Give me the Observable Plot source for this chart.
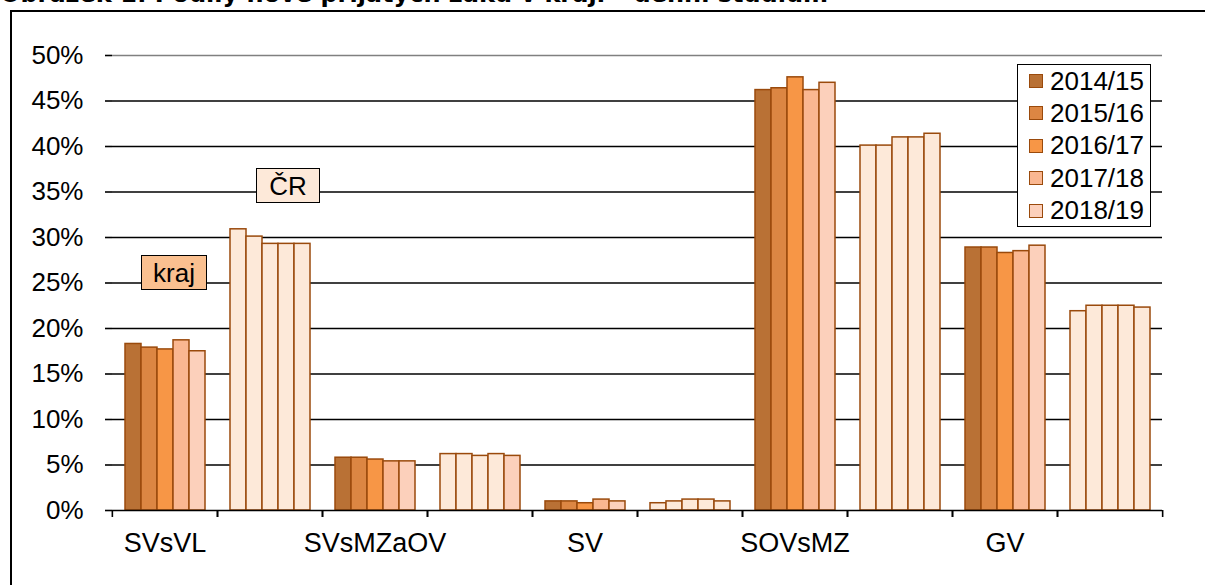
<!DOCTYPE html>
<html><head><meta charset="utf-8">
<script src="https://cdn.jsdelivr.net/npm/d3@7"></script>
<script src="https://cdn.jsdelivr.net/npm/@observablehq/plot@0.6"></script>
<style>
body{margin:0;background:#fff;font-family:"Liberation Sans",Arial,sans-serif;}
#wrap{position:relative;width:1205px;height:585px;overflow:hidden;background:#fff;}
#frame{position:absolute;left:10px;top:10px;width:1400px;height:800px;border:2px solid #000;box-sizing:border-box;}
#title{position:absolute;left:0px;top:-19px;font:bold 24px "DejaVu Sans",Verdana,sans-serif;white-space:nowrap;line-height:27px;}
#chart{position:absolute;left:0;top:0;}
.lab{position:absolute;border:1.5px solid #000;box-sizing:border-box;font-size:26px;display:flex;align-items:center;justify-content:center;line-height:1;}
#legend{position:absolute;left:1017px;top:64px;width:134px;height:163px;border:1.5px solid #000;box-sizing:border-box;background:#fff;}
.li{position:absolute;left:11px;height:30px;display:flex;align-items:center;font-size:26px;}
.sw{width:14px;height:14px;box-sizing:border-box;border:1.5px solid #9a4a0c;margin-right:7px;}
</style></head>
<body>
<div id="wrap">
  <div id="frame"></div>
  <div id="chart"></div>
  <div id="title">Obrázek 1: Podíly nově přijatých žáků v kraji – denní studium</div>
  <div class="lab" id="lkraj" style="left:141px;top:255px;width:66px;height:35px;background:#fac090;">kraj</div>
  <div class="lab" id="lcr" style="left:256px;top:168px;width:64px;height:35px;background:#fde9d9;">ČR</div>
  <div id="legend"></div>
</div>
<script>
const categories = ["SVsVL", "SVsMZaOV", "SV", "SOVsMZ", "GV"];
const groups = ["kraj", "ČR"];
const years = ["2014/15", "2015/16", "2016/17", "2017/18", "2018/19"];
const krajValues = [
  [18.3, 17.9, 17.7, 18.7, 17.5],
  [5.8, 5.8, 5.6, 5.4, 5.4],
  [1.0, 1.0, 0.8, 1.2, 1.0],
  [46.2, 46.4, 47.6, 46.2, 47.0],
  [28.9, 28.9, 28.3, 28.5, 29.1]
];
const crValues = [
  [30.9, 30.1, 29.3, 29.3, 29.3],
  [6.2, 6.2, 6.0, 6.2, 6.0],
  [0.8, 1.0, 1.2, 1.2, 1.0],
  [40.1, 40.1, 41.0, 41.0, 41.4],
  [21.9, 22.5, 22.5, 22.5, 22.3]
];
const yTicks = [0, 5, 10, 15, 20, 25, 30, 35, 40, 45, 50];

const yearColors = ["#b97135", "#dc8643", "#f79646", "#fab791", "#fcd0bb"];
const crColor = "#fde9d9";
const barStroke = "#9a4a0c";

const slots = [];
const rows = [];
categories.forEach((c, ci) => {
  groups.forEach(g => {
    const slot = c + "|" + g;
    slots.push(slot);
    const vals = g === "kraj" ? krajValues[ci] : crValues[ci];
    years.forEach((y, yi) => {
      let fill = g === "kraj" ? yearColors[yi] : crColor;
      if (g === "ČR" && c === "SVsMZaOV" && yi === 4) fill = yearColors[4];
      rows.push({slot, cat: c, group: g, year: y, value: vals[yi], fill});
    });
  });
});

const W = 1205, H = 585, mL = 110, mR = 42, mT = 55, mB = 75;
const facetW = (W - mL - mR) / slots.length;

const chart = Plot.plot({
  width: W, height: H,
  marginLeft: mL, marginRight: mR, marginTop: mT, marginBottom: mB,
  style: {fontFamily: "'Liberation Sans', Arial, sans-serif", fontSize: "26px", color: "#000", background: "transparent"},
  fx: {domain: slots, padding: 0, axis: null, label: null},
  x: {domain: years, paddingInner: 0, paddingOuter: 0.68, axis: null},
  y: {domain: [0, 50], axis: null, label: null},
  color: {type: "identity"},
  marks: [
    Plot.ruleY(yTicks.slice(1, -1), {stroke: "#000", strokeWidth: 1.6}),
    Plot.ruleY([50], {stroke: "#808080", strokeWidth: 1.6}),
    Plot.barY(rows, {fx: "slot", x: "year", y: "value", fill: "fill", stroke: barStroke, strokeWidth: 1.5}),
    Plot.ruleY([0], {stroke: "#000", strokeWidth: 1.6}),
    Plot.axisY({ticks: yTicks, tickFormat: d => d + "%", tickSize: 7, tickPadding: 22, fontSize: 26, label: null, line: true, stroke: "#000", strokeWidth: 1.6, strokeOpacity: 1}),
    Plot.axisY({anchor: "right", ticks: [], tickSize: 0, tickFormat: () => "", label: null, line: true, stroke: "#808080", strokeWidth: 1.6, strokeOpacity: 1}),
    Plot.axisFx({anchor: "bottom", tickSize: 7, tickFormat: () => "", label: null, dx: -facetW / 2, stroke: "#000", strokeWidth: 1.6, strokeOpacity: 1}),
    Plot.axisFx({anchor: "bottom", tickSize: 7, tickFormat: () => "", label: null, dx: facetW / 2, stroke: "#000", strokeWidth: 1.6, strokeOpacity: 1}),
    Plot.axisFx({anchor: "bottom", tickSize: 0, tickPadding: 22, fontSize: 27, label: null, tickFormat: s => s.endsWith("|kraj") ? s.split("|")[0] : ""})
  ]
});
document.getElementById("chart").appendChild(chart);

const legend = document.getElementById("legend");
years.forEach((y, i) => {
  const d = document.createElement("div");
  d.className = "li";
  d.style.top = (1 + i * 32.4) + "px";
  d.innerHTML = `<div class="sw" style="background:${yearColors[i]}"></div><span>${y}</span>`;
  legend.appendChild(d);
});
</script>
</body></html>
